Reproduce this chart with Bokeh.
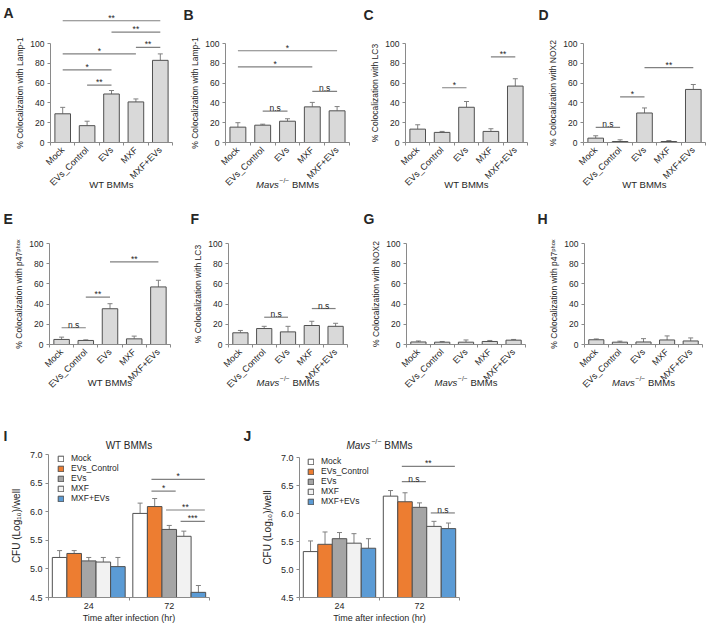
from math import pi
from bokeh.plotting import figure
from bokeh.models import (Range1d, FixedTicker, ColumnDataSource, Whisker, TeeHead,
                          Label, Legend, LegendItem, NumeralTickFormatter)
from bokeh.layouts import column, row
from bokeh.embed import file_html
from bokeh.resources import INLINE
from bokeh.core.properties import value

# ---------------- data ----------------
categories = ["Mock", "EVs_Control", "EVs", "MXF", "MXF+EVs"]
pct_ticks = [0, 20, 40, 60, 80, 100]

lamp1_wt = [29, 17, 49, 41, 83]
lamp1_wt_err = [6.5, 4.5, 3.5, 3.0, 6.5]
lamp1_mavs = [15.5, 17.5, 21.5, 36, 32]
lamp1_mavs_err = [4.5, 1.0, 2.5, 4.5, 4.3]
lc3_wt = [13.5, 10.2, 35.6, 11.2, 57]
lc3_wt_err = [4.4, 1.0, 5.8, 2.7, 7.4]
nox2_wt = [4.4, 1.0, 29.8, 1.0, 53.6]
nox2_wt_err = [2.4, 1.7, 5.1, 1.0, 5.0]
p47_wt = [5.0, 4.0, 35.4, 5.6, 57]
p47_wt_err = [2.3, 0.6, 5.0, 2.7, 6.6]
lc3_mavs = [11.6, 15.8, 12.5, 18.8, 18.0]
lc3_mavs_err = [2.3, 2.2, 5.5, 4.2, 3.0]
nox2_mavs = [2.5, 2.3, 2.3, 3.0, 4.3]
nox2_mavs_err = [1.0, 0.7, 2.2, 1.0, 0.7]
p47_mavs = [4.7, 2.3, 2.5, 4.5, 3.5]
p47_mavs_err = [0.8, 1.0, 3.3, 4.0, 3.0]

# significance: (from, to, height, label)
sig_A = [("Mock", "MXF+EVs", 123, "**"), ("EVs", "MXF+EVs", 111.5, "**"),
         ("MXF", "MXF+EVs", 96, "**"), ("Mock", "MXF", 89.5, "*"),
         ("Mock", "EVs", 73.4, "*"), ("EVs_Control", "EVs", 58, "**")]
sig_B = [("Mock", "MXF+EVs", 92.7, "*"), ("Mock", "MXF", 76.3, "*"),
         ("EVs_Control", "EVs", 31.7, "n.s"), ("MXF", "MXF+EVs", 51.7, "n.s")]
sig_C = [("EVs_Control", "EVs", 55.3, "*"), ("MXF", "MXF+EVs", 86.4, "**")]
sig_D = [("Mock", "EVs_Control", 15.3, "n.s"), ("EVs_Control", "EVs", 46.1, "*"),
         ("EVs", "MXF+EVs", 75.6, "**")]
sig_E = [("Mock", "EVs_Control", 16.6, "n.s"), ("EVs_Control", "EVs", 47, "**"),
         ("EVs", "MXF+EVs", 81.8, "**")]
sig_F = [("EVs_Control", "EVs", 27, "n.s"), ("MXF", "MXF+EVs", 35.6, "n.s")]

times = ["24", "72"]
cfu_ticks = [4.5, 5.0, 5.5, 6.0, 6.5, 7.0]
cfu_wt_24 = [5.20, 5.27, 5.14, 5.12, 5.04]
cfu_wt_24_err = [0.12, 0.05, 0.06, 0.08, 0.16]
cfu_wt_72 = [5.97, 6.09, 5.69, 5.57, 4.59]
cfu_wt_72_err = [0.18, 0.14, 0.07, 0.09, 0.12]
cfu_mavs_24 = [5.32, 5.45, 5.55, 5.47, 5.38]
cfu_mavs_24_err = [0.19, 0.22, 0.11, 0.17, 0.17]
cfu_mavs_72 = [6.31, 6.21, 6.11, 5.77, 5.73]
cfu_mavs_72_err = [0.10, 0.16, 0.08, 0.09, 0.10]
sig_I = [("EVs_Control", "MXF+EVs", 6.565, "*"), ("EVs_Control", "EVs", 6.36, "*"),
         ("EVs", "MXF+EVs", 6.03, "**"), ("MXF", "MXF+EVs", 5.83, "***")]
sig_J = [("EVs_Control", "MXF+EVs", 6.84, "**"), ("EVs_Control", "EVs", 6.57, "n.s"),
         ("MXF", "MXF+EVs", 6.01, "n.s")]
treat_colors = ["#ffffff", "#ed7d31", "#a5a5a5", "#f2f2f2", "#5b9bd5"]

# ---------------- style ----------------
FONT = "Liberation Sans"
TXT = "#262626"
AXC = "#8a8a8a"
SIGC = "#808080"
BAR_LINE = "#505050"


def put(p, H, cx, cy, text, size, style="normal", align="left", baseline="top"):
    # the frame covers the whole canvas, so screen units are canvas pixels (y upward)
    p.add_layout(Label(x=cx, y=H - cy, x_units="screen", y_units="screen", text=text,
                       text_font=FONT, text_font_size=f"{size}px", text_font_style=style,
                       text_align=align, text_baseline=baseline, text_color=TXT))


def caption(p, H, cx, cy, kind, size):
    if kind == "WT":
        put(p, H, cx, cy, "WT BMMs", size, align="center", baseline="middle")
        return
    sup = round(size * 0.7, 1)
    w_m = 2.39 * size
    w_s = 1.45 * sup
    w_b = 2.83 * size
    gap1, gap2 = 0.8, 0.3 * size
    x0 = cx - (w_m + gap1 + w_s + gap2 + w_b) / 2
    put(p, H, x0, cy, "Mavs", size, style="italic", baseline="middle")
    put(p, H, x0 + w_m + gap1, cy - 0.38 * size, "\u2212/\u2212", sup, baseline="middle")
    put(p, H, x0 + w_m + gap1 + w_s + gap2, cy, "BMMs", size, baseline="middle")


def base_fig(W, H, xr, yr):
    p = figure(width=W, height=H, x_range=Range1d(*xr), y_range=Range1d(*yr),
               output_backend="svg", toolbar_location=None,
               min_border_left=0, min_border_right=0, min_border_top=0, min_border_bottom=0)
    p.outline_line_color = None
    p.grid.visible = False
    for ax in (p.xaxis[0], p.yaxis[0]):
        ax.axis_line_color = AXC
        ax.major_tick_line_color = AXC
        ax.minor_tick_line_color = AXC
        ax.major_label_text_font = FONT
        ax.major_label_text_color = TXT
        ax.axis_label_text_font = FONT
        ax.axis_label_text_font_style = "normal"
        ax.axis_label_text_color = TXT
    return p


def draw_sigs(p, sigs, xpos, dx0=0.0, dx1=0.0):
    x0 = [xpos[a] + dx0 for a, b, h, t in sigs]
    x1 = [xpos[b] + dx1 for a, b, h, t in sigs]
    src = ColumnDataSource(dict(x0=x0, x1=x1, y=[h for a, b, h, t in sigs],
                                xm=[(a + b) / 2 for a, b in zip(x0, x1)],
                                t=[t for a, b, h, t in sigs]))
    p.segment(x0="x0", x1="x1", y0="y", y1="y", source=src, line_color=SIGC, line_width=1.2)
    p.text(x="xm", y="y", text="t", source=src, text_font=value(FONT),
           text_font_size=value("8.5px"), text_align="center", text_baseline="alphabetic",
           y_offset=-3, text_color=TXT)


def pct_panel(letter, W, H, ox, cw, oy, px100, vals, errs, ylabel, kind, sigs, lx, ly, cap_y):
    sy = px100 / 100.0
    n = len(categories)
    p = base_fig(W, H, (-ox / cw, (W - ox) / cw), (-(H - oy) / sy, oy / sy))
    xs = [i + 0.5 for i in range(n)]
    xpos = dict(zip(categories, xs))
    src = ColumnDataSource(dict(x=xs, top=vals, up=[v + e for v, e in zip(vals, errs)]))
    p.add_layout(Whisker(source=src, base="x", lower="top", upper="up", line_color=SIGC,
                         line_width=1, lower_head=None,
                         upper_head=TeeHead(size=5, line_color=SIGC, line_width=1)))
    p.vbar(x="x", top="top", bottom=0, width=0.64, source=src, fill_color="#d9d9d9",
           line_color=BAR_LINE, line_width=1)
    xa = p.xaxis[0]
    xa.fixed_location = 0
    xa.bounds = (0, n)
    xa.ticker = FixedTicker(ticks=xs, minor_ticks=list(range(n + 1)))
    xa.major_label_overrides = {x: c for x, c in zip(xs, categories)}
    xa.major_label_orientation = pi / 4
    xa.major_tick_out = 0
    xa.major_tick_in = 0
    xa.minor_tick_out = 3
    xa.minor_tick_in = 0
    xa.major_label_standoff = 3
    xa.major_label_text_font_size = "9px"
    ya = p.yaxis[0]
    ya.fixed_location = 0
    ya.bounds = (0, 100)
    ya.ticker = FixedTicker(ticks=pct_ticks, minor_ticks=[])
    ya.major_tick_out = 3
    ya.major_tick_in = 0
    ya.major_label_standoff = 3
    ya.major_label_text_font_size = "8.5px"
    ya.axis_label = ylabel
    ya.axis_label_text_font_size = "8.5px"
    ya.axis_label_standoff = 2
    if sigs:
        draw_sigs(p, sigs, xpos)
    put(p, H, lx, ly, letter, 14, style="bold")
    caption(p, H, ox + cw * n / 2, cap_y, kind, 9.5)
    return p


def cfu_panel(letter, W, H, ox, gw, oy, spu, d24, e24, d72, e72, kind, sigs, lx, ly,
              title_y, leg_x, leg_top):
    ng = len(times)
    p = base_fig(W, H, (-ox / gw, (W - ox) / gw), (4.5 - (H - oy) / spu, 4.5 + oy / spu))
    bw = 0.181
    items = []
    xpos = {}
    for j, t in enumerate(categories):
        xs = [k + 0.5 + (j - 2) * bw for k in range(ng)]
        xpos[t] = xs[1]
        vals = [d24[j], d72[j]]
        errs = [e24[j], e72[j]]
        src = ColumnDataSource(dict(x=xs, top=vals, up=[v + e for v, e in zip(vals, errs)]))
        p.add_layout(Whisker(source=src, base="x", lower="top", upper="up", line_color=SIGC,
                             line_width=1, lower_head=None,
                             upper_head=TeeHead(size=5, line_color=SIGC, line_width=1)))
        r = p.vbar(x="x", top="top", bottom=4.5, width=bw, source=src,
                   fill_color=treat_colors[j], line_color=BAR_LINE, line_width=1)
        items.append(LegendItem(label=t, renderers=[r]))
    leg_h = 5 * 9.8
    leg = Legend(items=items, location=(leg_x, H - leg_top - leg_h), glyph_width=7,
                 glyph_height=7, label_height=7, label_standoff=7, spacing=0, padding=0,
                 margin=0, border_line_color=None, background_fill_alpha=0,
                 label_text_font=FONT, label_text_font_size="8.5px", label_text_color=TXT)
    p.add_layout(leg)
    xa = p.xaxis[0]
    xa.fixed_location = 4.5
    xa.bounds = (0, ng)
    xa.ticker = FixedTicker(ticks=[k + 0.5 for k in range(ng)], minor_ticks=list(range(ng + 1)))
    xa.major_label_overrides = {k + 0.5: t for k, t in enumerate(times)}
    xa.major_tick_out = 0
    xa.major_tick_in = 0
    xa.minor_tick_out = 3
    xa.minor_tick_in = 0
    xa.major_label_standoff = 2
    xa.major_label_text_font_size = "9px"
    xa.axis_label = "Time after infection (hr)"
    xa.axis_label_text_font_size = "9px"
    xa.axis_label_standoff = 1
    ya = p.yaxis[0]
    ya.fixed_location = 0
    ya.bounds = (4.5, 7.0)
    ya.ticker = FixedTicker(ticks=cfu_ticks, minor_ticks=[])
    ya.formatter = NumeralTickFormatter(format="0.0")
    ya.major_tick_out = 3
    ya.major_tick_in = 0
    ya.major_label_standoff = 3
    ya.major_label_text_font_size = "9px"
    ya.axis_label = "CFU (Log\u2081\u2080)/well"
    ya.axis_label_text_font_size = "10px"
    ya.axis_label_standoff = 5
    draw_sigs(p, sigs, xpos, dx0=-0.04, dx1=0.08)
    put(p, H, lx, ly, letter, 14, style="bold")
    caption(p, H, ox + gw * ng / 2, title_y, kind, 10)
    return p


LBL_L = "% Colocalization with Lamp-1"
LBL_LC3 = "% Colocalization with LC3"
LBL_NOX = "% Colocalization with NOX2"
LBL_P47 = "% Colocalization with p47\u1d56\u02b0\u1d52\u02e3"

H1, OY1, P1, CAP1 = 191, 142, 99, 184
H2, OY2, P2, CAP2 = 200, 153, 101, 191

pA = pct_panel("A", 178, H1, 50, 24.4, OY1, P1, lamp1_wt, lamp1_wt_err, LBL_L, "WT", sig_A, 3, 4, CAP1)
pB = pct_panel("B", 177, H1, 47, 24.8, OY1, P1, lamp1_mavs, lamp1_mavs_err, LBL_L, "Mavs", sig_B, 5, 6, CAP1)
pC = pct_panel("C", 176, H1, 50, 24.4, OY1, P1, lc3_wt, lc3_wt_err, LBL_LC3, "WT", sig_C, 8, 6, CAP1)
pD = pct_panel("D", 177, H1, 52, 24.4, OY1, P1, nox2_wt, nox2_wt_err, LBL_NOX, "WT", sig_D, 7, 6, CAP1)

pE = pct_panel("E", 178, H2, 49, 24.2, OY2, P2, p47_wt, p47_wt_err, LBL_P47, "WT", sig_E, 3, 19, CAP2)
pF = pct_panel("F", 177, H2, 50, 23.8, OY2, P2, lc3_mavs, lc3_mavs_err, LBL_LC3, "Mavs", sig_F, 12, 19, CAP2)
pG = pct_panel("G", 176, H2, 51, 23.8, OY2, P2, nox2_mavs, nox2_mavs_err, LBL_NOX, "Mavs", None, 8, 19, CAP2)
pH = pct_panel("H", 177, H2, 53, 23.6, OY2, P2, p47_mavs, p47_mavs_err, LBL_P47, "Mavs", None, 6, 19, CAP2)

H3 = 235
pI = cfu_panel("I", 240, H3, 48, 80.5, 206, 57.2, cfu_wt_24, cfu_wt_24_err, cfu_wt_72,
               cfu_wt_72_err, "WT", sig_I, 3, 36, 54, 57, 63)
pJ = cfu_panel("J", 230, H3, 59, 80.0, 206, 56.0, cfu_mavs_24, cfu_mavs_24_err, cfu_mavs_72,
               cfu_mavs_72_err, "Mavs", sig_J, 3, 36, 54, 67, 66)

layout = column(row(pA, pB, pC, pD), row(pE, pF, pG, pH), row(pI, pJ))

with open("out.html", "w") as f:
    f.write(file_html(layout, INLINE))
